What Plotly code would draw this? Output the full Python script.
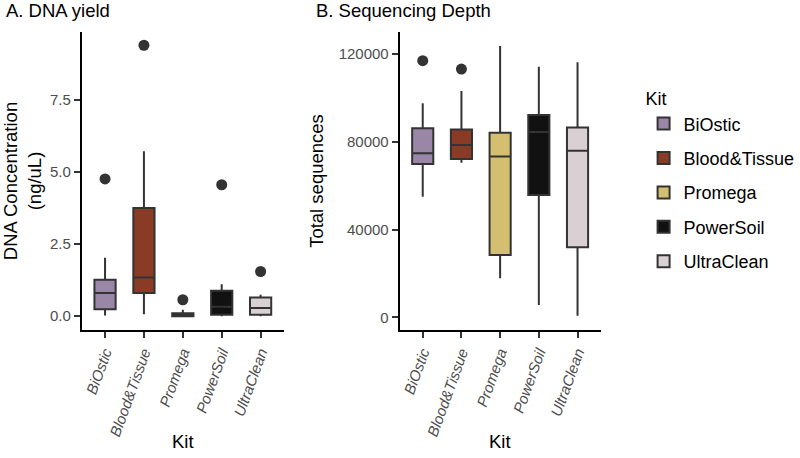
import plotly.graph_objects as go

kits = ["BiOstic", "Blood&Tissue", "Promega", "PowerSoil", "UltraClean"]
colors = ["#9A86A6", "#8A3B26", "#D4BF71", "#111111", "#D8D0D3"]

# Panel A: DNA yield (ng/uL)
dna_q1 = [0.24, 0.80, 0.00, 0.05, 0.05]
dna_med = [0.80, 1.34, 0.03, 0.33, 0.28]
dna_q3 = [1.26, 3.75, 0.10, 0.88, 0.65]
dna_lo = [0.02, 0.07, 0.00, 0.00, 0.00]
dna_hi = [2.03, 5.72, 0.22, 1.11, 0.74]
dna_out_kit = ["BiOstic", "Blood&Tissue", "Promega", "PowerSoil", "UltraClean"]
dna_out_val = [4.76, 9.40, 0.57, 4.56, 1.55]

# Panel B: sequencing depth (total sequences)
seq_q1 = [69900, 72200, 28400, 55800, 31900]
seq_med = [74800, 78600, 73300, 84500, 76000]
seq_q3 = [86200, 85600, 84100, 92300, 86500]
seq_lo = [55000, 70500, 17800, 5600, 700]
seq_hi = [97600, 103200, 123700, 114300, 116300]
seq_out_kit = ["BiOstic", "Blood&Tissue"]
seq_out_val = [117000, 113200]

W, H = 800, 458
fig = go.Figure()

for i, k in enumerate(kits):
    fig.add_trace(go.Box(
        x=[k], q1=[dna_q1[i]], median=[dna_med[i]], q3=[dna_q3[i]],
        lowerfence=[dna_lo[i]], upperfence=[dna_hi[i]],
        name=k, legendgroup=k, showlegend=True,
        fillcolor=colors[i], line=dict(color="#333333", width=2),
        whiskerwidth=0, boxpoints=False, xaxis="x", yaxis="y",
        hoverinfo="skip"))
    fig.add_trace(go.Box(
        x=[k], q1=[seq_q1[i]], median=[seq_med[i]], q3=[seq_q3[i]],
        lowerfence=[seq_lo[i]], upperfence=[seq_hi[i]],
        name=k, legendgroup=k, showlegend=False,
        fillcolor=colors[i], line=dict(color="#333333", width=2),
        whiskerwidth=0, boxpoints=False, xaxis="x2", yaxis="y2",
        hoverinfo="skip"))

fig.add_trace(go.Scatter(x=dna_out_kit, y=dna_out_val, mode="markers",
                         marker=dict(color="#333333", size=11), showlegend=False,
                         xaxis="x", yaxis="y"))
fig.add_trace(go.Scatter(x=seq_out_kit, y=seq_out_val, mode="markers",
                         marker=dict(color="#333333", size=11), showlegend=False,
                         xaxis="x2", yaxis="y2"))

font = "Liberation Sans, Arial, sans-serif"
ydom = [1 - 330 / H, 1 - 32 / H]
xcommon = dict(type="category", categoryorder="array", categoryarray=kits,
               range=[-0.6, 4.6], showline=True, linecolor="black", linewidth=1.6,
               ticks="outside", ticklen=6, tickwidth=1.6, tickcolor="#333333",
               tickangle=-70, showgrid=False, zeroline=False,
               tickfont=dict(family=font, size=15, color="#4D4D4D", style="italic"))
ycommon = dict(showline=True, linecolor="black", linewidth=1.6, ticks="outside",
               ticklen=6, tickwidth=1.6, tickcolor="#333333", showgrid=False,
               zeroline=False,
               tickfont=dict(family=font, size=15, color="#4D4D4D"))

title_font = dict(family=font, size=18.5, color="black")

fig.update_layout(
    width=W, height=H, paper_bgcolor="white", plot_bgcolor="white",
    margin=dict(l=0, r=0, t=0, b=0),
    boxmode="overlay", boxgap=0.22,
    xaxis=dict(domain=[79 / W, 282 / W], anchor="y", **xcommon),
    xaxis2=dict(domain=[398 / W, 600 / W], anchor="y2", **xcommon),
    yaxis=dict(domain=ydom, anchor="x", range=[-0.48, 9.86],
               tickvals=[0, 2.5, 5, 7.5], ticktext=["0.0", "2.5", "5.0", "7.5"],
               title=dict(text="DNA Concentration<br>(ng/uL)",
                          font=title_font, standoff=13),
               **ycommon),
    yaxis2=dict(domain=ydom, anchor="x2", range=[-5800, 130100],
                tickvals=[0, 40000, 80000, 120000], tickformat="d",
                title=dict(text="Total sequences", font=title_font, standoff=10),
                **ycommon),
    legend=dict(x=643 / W, xanchor="left", y=1 - 181 / H, yanchor="middle",
                title=dict(text="Kit", font=dict(family=font, size=18, color="black")),
                font=dict(family=font, size=18, color="black"),
                tracegroupgap=8, bgcolor="rgba(0,0,0,0)"),
    annotations=[
        dict(text="A. DNA yield", x=1 / W, y=1, xref="paper", yref="paper",
             xanchor="left", yanchor="top", yshift=2, showarrow=False,
             font=title_font),
        dict(text="B. Sequencing Depth", x=312 / W, y=1, xref="paper",
             yref="paper", xanchor="left", yanchor="top", yshift=2, showarrow=False,
             font=title_font),
        dict(text="Kit", x=181 / W, y=1 - 441 / H, xref="paper", yref="paper",
             xanchor="center", yanchor="middle", showarrow=False, font=title_font),
        dict(text="Kit", x=499 / W, y=1 - 441 / H, xref="paper", yref="paper",
             xanchor="center", yanchor="middle", showarrow=False, font=title_font),
    ],
)

fig.write_html("out.html", config={"displayModeBar": False},
               post_script="document.body.style.margin='0px';document.body.style.overflow='hidden';")
